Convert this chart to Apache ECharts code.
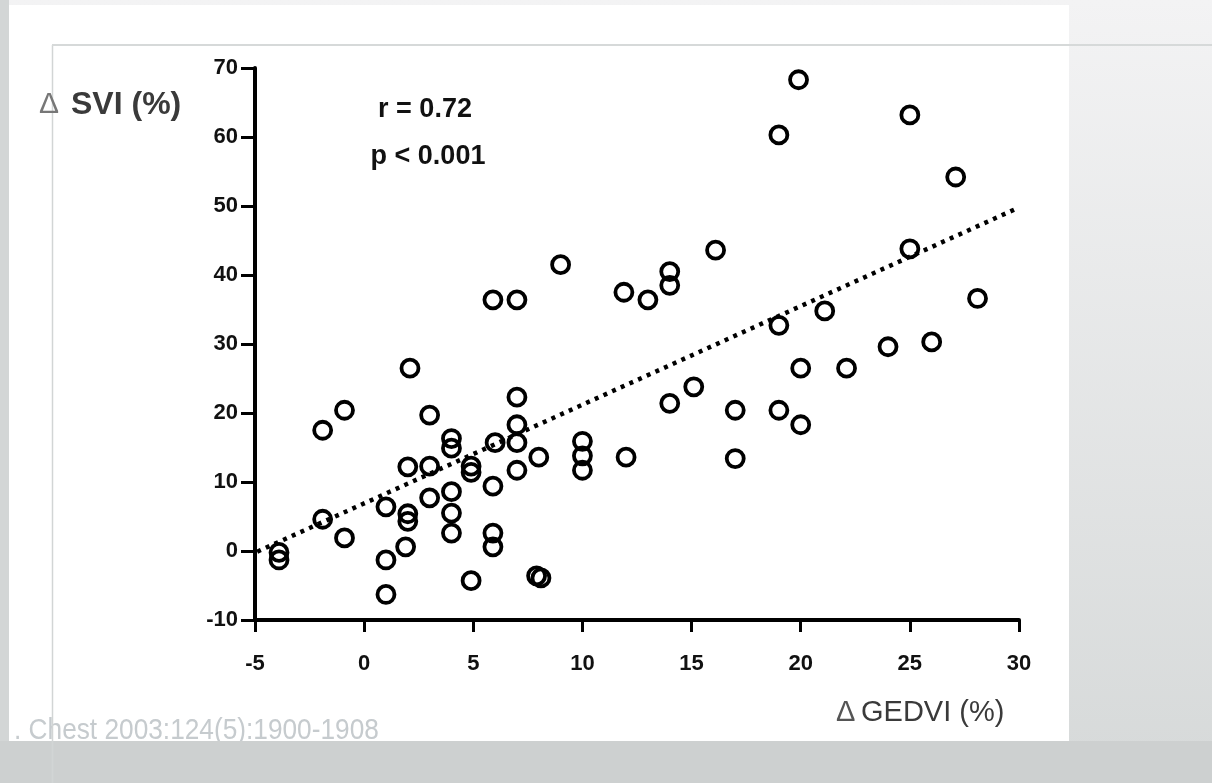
<!DOCTYPE html>
<html>
<head>
<meta charset="utf-8">
<script src="https://cdn.jsdelivr.net/npm/echarts@6/dist/echarts.min.js"></script>
<style>
  html, body { margin: 0; padding: 0; }
  #main { width: 1212px; height: 783px; }
</style>
</head>
<body>
<div id="main"></div>
<script type="text/javascript">
// Δ GEDVI (%) vs Δ SVI (%)
var gedvi = [19.9, 19.0, 25.0, 27.1, 25.0, 28.1, 21.1, 19.0, 24.0, 26.0,
             20.0, 22.1, 19.0, 20.0, 17.0, 17.0, 15.1, 14.0, 16.1, 14.0,
             14.0, 13.0, 11.9, 9.0, 7.0, 5.9, 12.0, 10.0, 10.0, 10.0,
             8.0, 7.9, 8.1, 7.0, 7.0, 7.0, 7.0, 6.0, 5.9, 5.9,
             5.9, 4.9, 4.9, 4.0, 4.0, 4.0, 4.0, 4.0, 4.9, 2.1,
             -0.9, -1.9, 3.0, 2.0, 3.0, 3.0, 1.0, 2.0, 2.0, 1.9,
             1.0, 1.0, -1.9, -0.9, -3.9, -3.9];
var svi = [68.3, 60.3, 63.2, 54.2, 43.8, 36.6, 34.8, 32.7, 29.6, 30.3,
           26.5, 26.5, 20.4, 18.3, 20.4, 13.4, 23.8, 21.4, 43.6, 40.5,
           38.5, 36.4, 37.5, 41.5, 36.4, 36.4, 13.6, 15.9, 13.8, 11.7,
           13.6, -3.6, -3.9, 22.3, 18.3, 15.7, 11.7, 15.7, 9.4, 2.6,
           0.6, 12.3, 11.4, 16.3, 14.9, 8.6, 5.5, 2.6, -4.3, 26.5,
           20.4, 17.5, 19.7, 12.2, 12.3, 7.7, 6.4, 5.4, 4.3, 0.6,
           -1.3, -6.3, 4.6, 1.9, -0.2, -1.3];

// regression line end points
var trendX = [-4.9, 29.8];
var trendY = [-0.1, 49.5];

var statR = 'r = 0.72';
var statP = 'p < 0.001';
var citation = '. Chest 2003:124(5):1900-1908';

var FONT = '"Liberation Sans", Arial, Helvetica, sans-serif';

var points = gedvi.map(function (x, i) { return [x, svi[i]]; });
var trend = trendX.map(function (x, i) { return [x, trendY[i]]; });

var chart = echarts.init(document.getElementById('main'));

var option = {
    animation: false,
    grid: { left: 255, right: 193, top: 68, bottom: 163, outerBoundsMode: 'none' },
    xAxis: {
        type: 'value', min: -5, max: 30, interval: 5,
        splitLine: { show: false },
        axisLine: { onZero: false, lineStyle: { color: '#000', width: 4 } },
        axisTick: { length: 12, lineStyle: { color: '#000', width: 3 } },
        axisLabel: { margin: 33, color: '#111', fontSize: 22, fontWeight: 'bold', fontFamily: FONT }
    },
    yAxis: {
        type: 'value', min: -10, max: 70, interval: 10,
        splitLine: { show: false },
        axisLine: { onZero: false, lineStyle: { color: '#000', width: 4 } },
        axisTick: { length: 14, lineStyle: { color: '#000', width: 3 } },
        axisLabel: { margin: 17, color: '#111', fontSize: 22, fontWeight: 'bold', fontFamily: FONT }
    },
    series: [
        {
            type: 'line',
            data: trend,
            showSymbol: false,
            silent: true,
            lineStyle: { color: '#000', width: 4.5, type: [4, 5.5], cap: 'butt' },
            z: 3
        },
        {
            type: 'scatter',
            data: points,
            symbol: 'circle',
            symbolSize: 17,
            itemStyle: { color: 'rgba(0,0,0,0)', borderColor: '#000', borderWidth: 3.8, opacity: 1 },
            z: 4
        }
    ],
    graphic: [
        // page background
        {
            type: 'rect', z: -20, silent: true,
            shape: { x: 0, y: 0, width: 1212, height: 783 },
            style: {
                fill: new echarts.graphic.LinearGradient(0, 0, 0, 1, [
                    { offset: 0, color: '#f3f3f4' },
                    { offset: 1, color: '#d6d9d9' }
                ])
            }
        },
        {
            type: 'rect', z: -20, silent: true,
            shape: { x: 0, y: 0, width: 9, height: 783 },
            style: { fill: '#d3d6d6' }
        },
        {
            type: 'rect', z: -19, silent: true,
            shape: { x: 9, y: 5, width: 1060, height: 740 },
            style: { fill: '#ffffff' }
        },
        {
            type: 'text', z: -17, silent: true,
            x: 14, y: 731, scaleX: 0.875,
            style: { text: citation, fill: '#c6cbce', fontSize: 30, fontFamily: FONT, verticalAlign: 'middle' }
        },
        {
            type: 'rect', z: -16, silent: true,
            shape: { x: 0, y: 741, width: 1212, height: 42 },
            style: { fill: '#cdd0d0' }
        },
        {
            type: 'line', z: -15, silent: true,
            shape: { x1: 52.5, y1: 45, x2: 52.5, y2: 783 },
            style: { stroke: '#d2d5d5', lineWidth: 1.5 }
        },
        {
            type: 'line', z: -15, silent: true,
            shape: { x1: 52, y1: 45, x2: 1212, y2: 45 },
            style: { stroke: '#d6d9d9', lineWidth: 2 }
        },
        // axis names
        {
            type: 'text', silent: true, x: 39, y: 105,
            style: { text: 'Δ', fill: '#777', fontSize: 30, fontFamily: FONT, verticalAlign: 'middle' }
        },
        {
            type: 'text', silent: true, x: 71, y: 105,
            style: { text: 'SVI (%)', fill: '#3a3a3a', fontSize: 32, fontWeight: 'bold', fontFamily: FONT, verticalAlign: 'middle' }
        },
        {
            type: 'text', silent: true, x: 836, y: 713,
            style: { text: 'Δ', fill: '#555', fontSize: 29, fontFamily: FONT, verticalAlign: 'middle' }
        },
        {
            type: 'text', silent: true, x: 861, y: 713,
            style: { text: 'GEDVI (%)', fill: '#3a3a3a', fontSize: 29, fontFamily: FONT, verticalAlign: 'middle' }
        },
        // statistics
        {
            type: 'text', silent: true, x: 425, y: 110,
            style: { text: statR, fill: '#111', fontSize: 27, fontWeight: 'bold', fontFamily: FONT, align: 'center', verticalAlign: 'middle' }
        },
        {
            type: 'text', silent: true, x: 428, y: 157,
            style: { text: statP, fill: '#111', fontSize: 27, fontWeight: 'bold', fontFamily: FONT, align: 'center', verticalAlign: 'middle' }
        }
    ]
};

chart.setOption(option);
</script>
</body>
</html>
